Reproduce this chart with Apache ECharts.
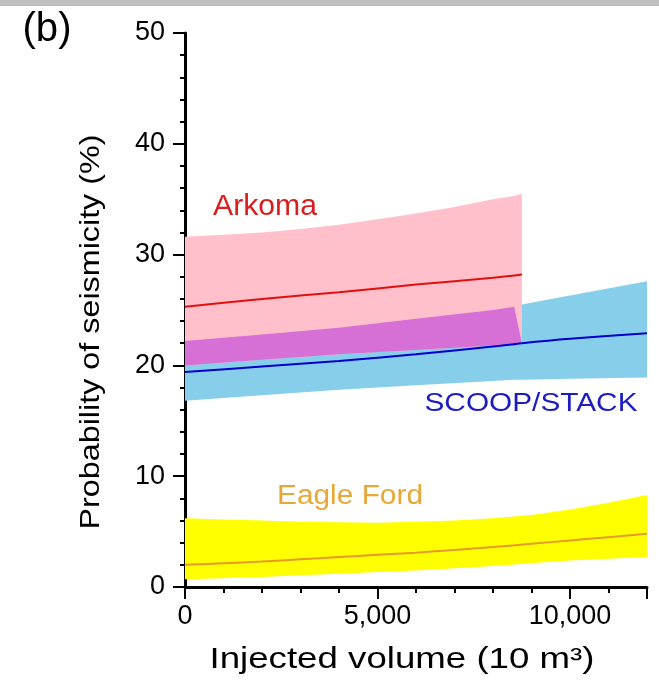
<!DOCTYPE html>
<html><head><meta charset="utf-8">
<script src="https://cdn.jsdelivr.net/npm/echarts@6/dist/echarts.min.js"></script>
<style>html,body{margin:0;padding:0;background:#fff}#c{width:659px;height:687px}</style>
</head><body><div id="c"></div>
<script>
// ---- data ----
const xTicks = [0, 5000, 10000];
const yTicks = [0, 10, 20, 30, 40, 50];

const arkX     = [0, 1000, 2000, 3000, 4000, 5000, 6000, 7000, 8000, 8550, 8750];
const arkLow   = [20.0, 20.25, 20.5, 20.75, 21.0, 21.2, 21.4, 21.6, 21.8, 21.9, 22.0];
const arkHigh  = [31.6, 31.8, 32.0, 32.3, 32.7, 33.2, 33.7, 34.3, 35.0, 35.3, 35.5];
const arkLineX = [0, 2000, 4000, 6000, 8000, 8750];
const arkLine  = [25.3, 26.0, 26.6, 27.3, 27.9, 28.2];

const scX      = [0, 2000, 4000, 6000, 8000, 8550, 8750, 10000, 12000];
const scLow    = [16.8, 17.3, 17.8, 18.2, 18.6, 18.7, 18.7, 18.8, 18.9];
const scHigh   = [22.2, 22.8, 23.4, 24.2, 25.0, 25.3, 25.5, 26.3, 27.6];
const scLineX  = [0, 2000, 4000, 6000, 8000, 8750, 10000, 12000];
const scLine   = [19.4, 19.9, 20.4, 21.0, 21.7, 22.0, 22.4, 22.9];

const ovX      = [0, 2000, 4000, 6000, 8000, 8550, 8750];
const ovLow    = [20.0, 20.5, 21.0, 21.4, 21.8, 21.9, 22.0];
const ovHigh   = [22.2, 22.8, 23.4, 24.2, 25.0, 25.3, 22.0];

const efX      = [0, 1000, 2000, 3000, 4000, 5000, 6000, 7000, 8000, 9000, 10000, 11000, 12000];
const efLow    = [0.7, 0.8, 0.9, 1.05, 1.2, 1.35, 1.5, 1.7, 1.9, 2.15, 2.4, 2.55, 2.7];
const efHigh   = [6.2, 6.1, 6.0, 5.9, 5.85, 5.8, 5.9, 6.0, 6.2, 6.5, 7.0, 7.6, 8.3];
const efLine   = [2.0, 2.15, 2.3, 2.5, 2.7, 2.9, 3.1, 3.35, 3.6, 3.9, 4.2, 4.5, 4.8];

// ---- helpers ----
const FONT = '"Liberation Sans", Arial, Helvetica, sans-serif';
const mctx = document.createElement('canvas').getContext('2d');
function fit(text, size, width) { mctx.font = size + 'px ' + FONT; return width / mctx.measureText(text).width; }

function band(name, xs, lo, hi, color) {
  const data = xs.map((x, i) => [x, lo[i], hi[i]]);
  return {
    type: 'custom', name, data, encode: { x: 0, y: [1, 2] }, silent: true,
    renderItem: function (params, api) {
      if (params.dataIndex !== 0) return null;
      const pts = [];
      for (let i = 0; i < xs.length; i++) pts.push(api.coord([xs[i], hi[i]]));
      for (let i = xs.length - 1; i >= 0; i--) pts.push(api.coord([xs[i], lo[i]]));
      return { type: 'polygon', shape: { points: pts }, style: { fill: color, stroke: null } };
    }
  };
}
function line(name, xs, ys, color) {
  return {
    type: 'line', name, data: xs.map((x, i) => [x, ys[i]]), showSymbol: false, smooth: 0.3,
    lineStyle: { color, width: 2 }, silent: true, z: 5
  };
}

function txt(text, x, y, size, color, width, rot) {
  return {
    type: 'text', x, y, rotation: rot || 0, scaleX: width ? fit(text, size, width) : 1, z: 100,
    style: { text, font: size + 'px ' + FONT, fill: color, align: 'center', verticalAlign: 'middle' }
  };
}

const chart = echarts.init(document.getElementById('c'), null, { renderer: 'canvas' });
chart.setOption({
  animation: false,
  backgroundColor: '#fff',
  grid: { left: 185, right: 12, top: 33, bottom: 100 },
  xAxis: {
    type: 'value', min: 0, max: 12000, interval: 5000,
    axisLine: { show: true, lineStyle: { color: '#000', width: 3 } },
    axisTick: { show: true, length: 12, lineStyle: { color: '#000', width: 2 } },
    minorTick: { show: true, splitNumber: 5, length: 6, lineStyle: { color: '#000', width: 2 } },
    splitLine: { show: false },
    axisLabel: {
      margin: 16, color: '#000', fontSize: 27, fontFamily: FONT,
      formatter: v => xTicks.indexOf(v) >= 0 ? v.toLocaleString('en-US') : ''
    }
  },
  yAxis: {
    type: 'value', min: 0, max: 50, interval: 10,
    axisLine: { show: true, lineStyle: { color: '#000', width: 3 } },
    axisTick: { show: true, length: 12, lineStyle: { color: '#000', width: 2 } },
    minorTick: { show: true, splitNumber: 5, length: 5, lineStyle: { color: '#000', width: 2 } },
    splitLine: { show: false },
    axisLabel: {
      margin: 20, color: '#000', fontSize: 27, fontFamily: FONT,
      formatter: v => yTicks.indexOf(v) >= 0 ? String(v) : ''
    }
  },
  series: [
    band('SCOOP/STACK band', scX, scLow, scHigh, '#87CEEB'),
    band('Arkoma band', arkX, arkLow, arkHigh, '#FFC0CB'),
    band('Overlap', ovX, ovLow, ovHigh, '#D670D6'),
    band('Eagle Ford band', efX, efLow, efHigh, '#FFFF00'),
    line('Eagle Ford', efX, efLine, '#E69A28'),
    line('SCOOP/STACK', scLineX, scLine, '#0000CC'),
    line('Arkoma', arkLineX, arkLine, '#E01010')
  ],
  graphic: [
    { type: 'rect', shape: { x: 0, y: 0, width: 659, height: 6 }, style: { fill: '#BFBFBF' }, z: 100 },
    txt('(b)', 47, 30, 40, '#000', 49),
    txt('Probability of seismicity (%)', 91, 332, 28, '#000', 395, Math.PI / 2),
    txt('Injected volume (10 m\u00B3)', 402, 660, 29, '#000', 385),
    txt('Arkoma', 265, 207, 29, '#D81E1E', 104),
    txt('SCOOP/STACK', 531, 404, 25, '#1C1CC0', 213),
    txt('Eagle Ford', 350, 497, 27, '#E8A838', 146)
  ]
});
</script>
</body></html>
